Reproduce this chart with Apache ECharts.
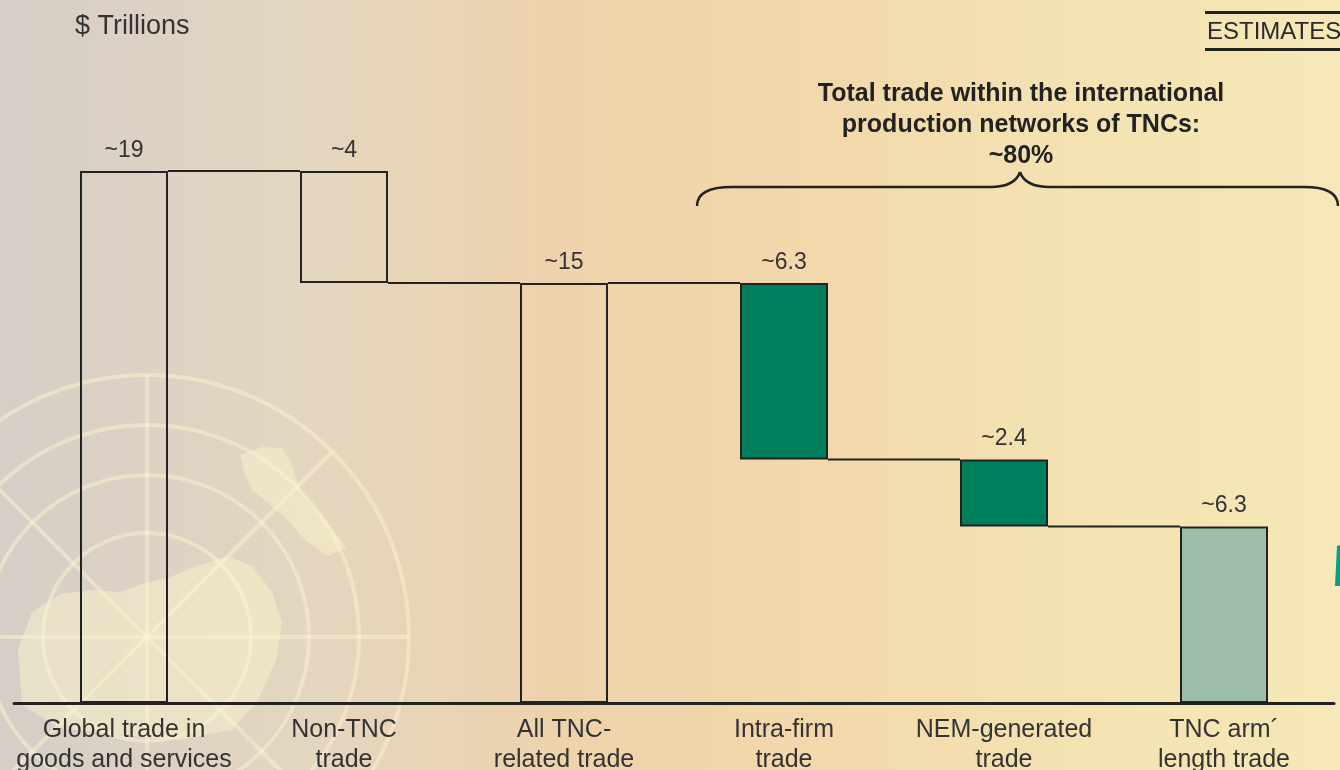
<!DOCTYPE html>
<html>
<head>
<meta charset="utf-8">
<script src="https://cdn.jsdelivr.net/npm/echarts@6/dist/echarts.min.js"></script>
<style>
  html, body { margin: 0; padding: 0; }
  #chart { width: 1340px; height: 770px; }
</style>
</head>
<body>
<div id="chart"></div>
<script>
// Waterfall of world trade, $ trillions
const categories = [
  'Global trade in\ngoods and services',
  'Non-TNC\ntrade',
  'All TNC-\nrelated trade',
  'Intra-firm\ntrade',
  'NEM-generated\ntrade',
  'TNC arm\u00b4\nlength trade'
];
const values = [19, 4, 15, 6.3, 2.4, 6.3];
// 'total' bars stand on the axis, 'delta' bars hang from the running level
const kinds = ['total', 'delta', 'total', 'delta', 'delta', 'total'];

const FONT = '"Liberation Sans", Arial, Helvetica, sans-serif';
const BAR_W = 88;
const fills = ['rgba(0,0,0,0)', 'rgba(0,0,0,0)', 'rgba(0,0,0,0)', '#007f5d', '#007f5d', '#9dbfa9'];

// invisible base under each bar and the running level after each bar
const base = [];
const level = [];
let run = 0;
values.forEach((v, i) => {
  if (kinds[i] === 'total') { base.push(0); run = v; }
  else { run = Math.round((run - v) * 100) / 100; base.push(run); }
  level.push(run);
});
const connectors = level.slice(0, values.length - 1).map((l, i) => [i, l]);

// faint emblem in the lower left of the backdrop
const EC = [147, 637];
const ringStroke = 'rgba(253,247,208,0.45)';
const emblem = [];
[262, 212, 162, 104].forEach(r => emblem.push({
  type: 'circle', z: -9, silent: true,
  shape: { cx: EC[0], cy: EC[1], r: r },
  style: { fill: 'none', stroke: ringStroke, lineWidth: 4 }
}));
const d = 262 / Math.SQRT2;
[[0, -262, 0, 262], [-262, 0, 262, 0], [-d, -d, d, d], [-d, d, d, -d]].forEach(s => emblem.push({
  type: 'line', z: -9, silent: true,
  shape: { x1: EC[0] + s[0], y1: EC[1] + s[1], x2: EC[0] + s[2], y2: EC[1] + s[3] },
  style: { stroke: ringStroke, lineWidth: 4 }
}));
const landStyle = { fill: 'rgba(252,247,205,0.45)' };
emblem.push({
  type: 'polygon', z: -9, silent: true, style: landStyle,
  shape: { points: [[240,455],[262,447],[282,448],[292,465],[300,490],[318,512],[335,532],[346,548],[328,556],[305,540],[288,520],[268,503],[252,490],[244,472]] }
});
emblem.push({
  type: 'polygon', z: -9, silent: true, style: landStyle,
  shape: { points: [[18,650],[32,612],[60,594],[92,590],[120,592],[142,584],[168,578],[196,566],[228,556],[252,566],[272,592],[282,622],[276,660],[258,700],[232,730],[180,740],[120,735],[60,728],[22,705]] }
});

// curly brace over the TNC network bars
const braceStyle = { fill: 'none', stroke: '#222', lineWidth: 2.5 };
const brace = [
  { type: 'bezierCurve', shape: { x1: 697, y1: 206, cpx1: 697, cpy1: 187, x2: 732, y2: 187 } },
  { type: 'line', shape: { x1: 732, y1: 187, x2: 990, y2: 187 } },
  { type: 'bezierCurve', shape: { x1: 990, y1: 187, cpx1: 1015, cpy1: 187, x2: 1020, y2: 172 } },
  { type: 'bezierCurve', shape: { x1: 1020, y1: 172, cpx1: 1025, cpy1: 187, x2: 1050, y2: 187 } },
  { type: 'line', shape: { x1: 1050, y1: 187, x2: 1304, y2: 187 } },
  { type: 'bezierCurve', shape: { x1: 1304, y1: 187, cpx1: 1338, cpy1: 187, x2: 1338, y2: 206 } }
].map(e => Object.assign(e, { silent: true, style: braceStyle }));

const chart = echarts.init(document.getElementById('chart'), null, { renderer: 'canvas' });
chart.setOption({
  animation: false,
  backgroundColor: 'transparent',
  grid: { left: 14, right: 6, top: 143, bottom: 67, containLabel: false, outerBoundsMode: 'none' },
  xAxis: {
    type: 'category',
    data: categories,
    axisLine: { lineStyle: { color: '#222', width: 3 } },
    axisTick: { show: false },
    axisLabel: {
      interval: 0, margin: 12, color: '#333',
      fontFamily: FONT, fontSize: 25, lineHeight: 30
    }
  },
  yAxis: { type: 'value', min: 0, max: 20, show: false, splitLine: { show: false } },
  graphic: [
    {
      type: 'rect', z: -10, silent: true,
      shape: { x: 0, y: 0, width: 1340, height: 770 },
      style: {
        fill: new echarts.graphic.LinearGradient(0, 0, 1, 0, [
          { offset: 0, color: '#d6cec7' },
          { offset: 0.22, color: '#e3d6c0' },
          { offset: 0.42, color: '#eed2ac' },
          { offset: 0.6, color: '#f2d8ab' },
          { offset: 0.8, color: '#f4e2b2' },
          { offset: 1, color: '#f6e8b8' }
        ])
      }
    },
    ...emblem,
    {
      type: 'text', x: 75, y: 27, silent: true,
      style: { text: '$ Trillions', font: '27px ' + FONT, fill: '#333', textVerticalAlign: 'middle' }
    },
    {
      type: 'rect', silent: true,
      shape: { x: 1205, y: 11, width: 140, height: 3 }, style: { fill: '#222' }
    },
    {
      type: 'rect', silent: true,
      shape: { x: 1205, y: 48, width: 140, height: 3 }, style: { fill: '#222' }
    },
    {
      type: 'text', x: 1207, y: 32, silent: true,
      style: { text: 'ESTIMATES', font: '500 24px ' + FONT, fill: '#2a2a2a', textVerticalAlign: 'middle' }
    },
    {
      type: 'text', x: 1021, y: 125, silent: true,
      style: {
        text: 'Total trade within the international\nproduction networks of TNCs:\n~80%',
        font: 'bold 25px ' + FONT, fill: '#222',
        textAlign: 'center', textVerticalAlign: 'middle', lineHeight: 31
      }
    },
    ...brace,
    {
      type: 'polygon', silent: true,
      shape: { points: [[1340, 545], [1337, 546], [1335, 586], [1340, 586]] },
      style: { fill: '#00a383' }
    }
  ],
  series: [
    {
      type: 'bar', stack: 'trade', barWidth: BAR_W, silent: true,
      data: base,
      itemStyle: { color: 'rgba(0,0,0,0)' }
    },
    {
      type: 'bar', stack: 'trade', barWidth: BAR_W,
      data: values.map((v, i) => ({ value: v, itemStyle: { color: fills[i] } })),
      itemStyle: { borderColor: '#222', borderWidth: 2 },
      label: {
        show: true, position: 'top', distance: 9,
        formatter: p => '~' + p.value,
        fontFamily: FONT, fontSize: 23, color: '#333'
      }
    },
    {
      type: 'custom', silent: true, z: 3,
      data: connectors,
      renderItem: (params, api) => {
        const a = api.coord([api.value(0), api.value(1)]);
        const b = api.coord([api.value(0) + 1, api.value(1)]);
        return {
          type: 'line',
          shape: { x1: a[0] + BAR_W / 2, y1: a[1], x2: b[0] - BAR_W / 2, y2: b[1] },
          style: { stroke: '#222', lineWidth: 2 }
        };
      }
    }
  ]
});
</script>
</body>
</html>
